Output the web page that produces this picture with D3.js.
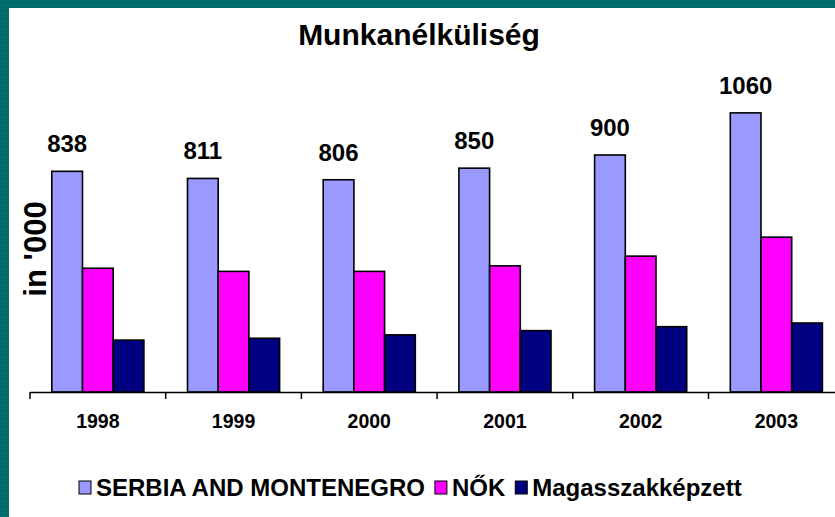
<!DOCTYPE html>
<html>
<head>
<meta charset="utf-8">
<script src="https://cdn.jsdelivr.net/npm/d3@7"></script>
<style>
  html, body { margin: 0; padding: 0; background: #006b69; }
</style>
</head>
<body>
<script>
// data
const years = ["1998", "1999", "2000", "2001", "2002", "2003"];
const serbia = [838, 811, 806, 850, 900, 1060];
const nok = [470, 458, 458, 479, 516, 588];
const magas = [197, 204, 217, 233, 248, 262];
const seriesNames = ["SERBIA AND MONTENEGRO", "NŐK", "Magasszakképzett"];
const seriesColors = ["#9999ff", "#ff00ff", "#000080"];

let canvasW = 835;
let canvasH = 517;
let font = "Arial, 'Liberation Sans', sans-serif";

let svg = d3.select("body").append("svg")
  .attr("width", canvasW)
  .attr("height", canvasH)
  .style("display", "block");

// teal frame with faint stripes, white plot page
let pat = svg.append("defs").append("pattern")
  .attr("id", "stripes")
  .attr("width", 4).attr("height", 4)
  .attr("patternUnits", "userSpaceOnUse");
pat.append("rect").attr("width", 4).attr("height", 4).attr("fill", "#006b69");
pat.append("rect").attr("width", 4).attr("height", 2).attr("fill", "#00716e");

svg.append("rect")
  .attr("width", canvasW).attr("height", canvasH)
  .attr("fill", "url(#stripes)");
svg.append("rect")
  .attr("x", 9).attr("y", 8)
  .attr("width", canvasW - 9).attr("height", canvasH - 8)
  .attr("fill", "white");

let table = years.map((y, i) => ({
  year: y,
  values: [serbia[i], nok[i], magas[i]]
}));

let x0 = d3.scaleBand()
  .domain(years)
  .range([30, 30 + 6 * 135.7]);

let x1 = d3.scaleBand()
  .domain(d3.range(3))
  .range([0, x0.bandwidth()])
  .paddingInner(0)
  .paddingOuter(0.71);

let y = d3.scaleLinear()
  .domain([0, 1200])
  .range([392, 76]);

// bars
let groups = svg.selectAll(".grp")
  .data(table)
  .enter()
  .append("g")
    .attr("class", "grp")
    .attr("transform", d => "translate(" + x0(d.year) + ",0)");

groups.selectAll("rect")
  .data(d => d.values.map((v, k) => ({ k: k, v: v })))
  .enter()
  .append("rect")
    .attr("x", d => x1(d.k))
    .attr("y", d => y(d.v))
    .attr("width", x1.bandwidth())
    .attr("height", d => y(0) - y(d.v))
    .attr("fill", d => seriesColors[d.k])
    .attr("stroke", "black")
    .attr("stroke-width", 1.6);

// value labels on the first series
groups.append("text")
  .attr("x", x1(0) + x1.bandwidth() / 2)
  .attr("y", d => y(d.values[0]) - 19)
  .attr("text-anchor", "middle")
  .attr("font-family", font)
  .attr("font-weight", "bold")
  .attr("font-size", "24px")
  .attr("fill", "black")
  .text(d => d.values[0]);

// x axis
let xAxis = svg.append("g")
  .attr("transform", "translate(0," + y(0) + ")")
  .call(d3.axisBottom(x0).tickSize(0).tickSizeOuter(0).tickPadding(22));
xAxis.select(".domain").attr("stroke", "black").attr("stroke-width", 1.5);
xAxis.selectAll("text")
  .attr("font-family", font)
  .attr("font-weight", "bold")
  .attr("font-size", "19.5px")
  .attr("fill", "black");

xAxis.selectAll(".sep")
  .data(years)
  .enter()
  .append("line")
    .attr("class", "sep")
    .attr("x1", d => x0(d)).attr("x2", d => x0(d))
    .attr("y1", 0).attr("y2", 7)
    .attr("stroke", "black")
    .attr("stroke-width", 1.5);

// title
svg.append("text")
  .attr("x", 419)
  .attr("y", 45)
  .attr("text-anchor", "middle")
  .attr("font-family", font)
  .attr("font-weight", "bold")
  .attr("font-size", "30px")
  .attr("fill", "black")
  .text("Munkanélküliség");

// y label
svg.append("text")
  .attr("transform", "translate(46,249) rotate(-90)")
  .attr("text-anchor", "middle")
  .attr("font-family", font)
  .attr("font-weight", "bold")
  .attr("font-size", "31px")
  .attr("fill", "black")
  .text("in '000");

// legend, items placed one after another from the left
let items = svg.selectAll(".leg")
  .data(seriesNames)
  .enter()
  .append("g")
    .attr("class", "leg");

items.append("rect")
  .attr("y", 481)
  .attr("width", 12).attr("height", 13)
  .attr("fill", (d, i) => seriesColors[i])
  .attr("stroke", "black")
  .attr("stroke-width", 1);

items.append("text")
  .attr("x", 17)
  .attr("y", 496)
  .attr("font-family", font)
  .attr("font-weight", "bold")
  .attr("font-size", "24px")
  .attr("fill", "black")
  .text(d => d);

let lx = 79;
items.each(function() {
  let g = d3.select(this);
  g.attr("transform", "translate(" + lx + ",0)");
  lx += 17 + g.select("text").node().getComputedTextLength() + 10;
});
</script>
</body>
</html>
